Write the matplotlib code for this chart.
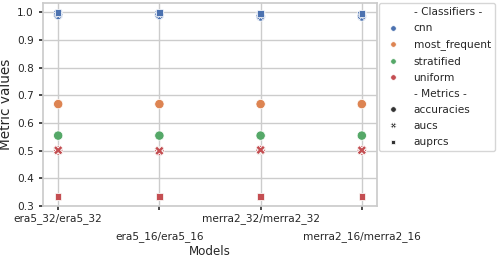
import pandas as pd
import numpy as np
import matplotlib
matplotlib.use('Agg')
import matplotlib.pyplot as plt
import seaborn as sns

models = ['era5_32/era5_32', 'era5_16/era5_16', 'merra2_32/merra2_32', 'merra2_16/merra2_16']
classifiers = ['cnn', 'most_frequent', 'stratified', 'uniform']
metrics = ['accuracies', 'aucs', 'auprcs']

# values per classifier, per metric, per model
accuracies = {
    'cnn': [0.990, 0.990, 0.985, 0.985],
    'most_frequent': [0.668, 0.668, 0.668, 0.668],
    'stratified': [0.554, 0.554, 0.554, 0.554],
    'uniform': [0.500, 0.498, 0.502, 0.500],
}
aucs = {
    'cnn': [0.995, 0.994, 0.990, 0.990],
    'most_frequent': [0.500, 0.500, 0.500, 0.500],
    'stratified': [0.500, 0.500, 0.500, 0.500],
    'uniform': [0.501, 0.499, 0.502, 0.501],
}
auprcs = {
    'cnn': [1.000, 1.000, 0.996, 0.996],
    'most_frequent': [0.333, 0.333, 0.333, 0.333],
    'stratified': [0.333, 0.333, 0.333, 0.333],
    'uniform': [0.333, 0.333, 0.333, 0.333],
}

rows = []
for metric, table in zip(metrics, [accuracies, aucs, auprcs]):
    for clf in classifiers:
        for m, v in zip(models, table[clf]):
            rows.append({'Models': m, 'Metric values': v, 'classifier': clf, 'metric': metric})
df = pd.DataFrame(rows)

sns.set_theme(style='whitegrid')
plt.rcParams['font.family'] = ['DejaVu Sans']

fig, ax = plt.subplots(figsize=(5, 2.59), dpi=100)
sns.scatterplot(data=df, x='Models', y='Metric values', hue='classifier', style='metric',
                s=45, ax=ax)
ax.grid(True)

# staggered tick labels
labels = [m if i % 2 == 0 else '\n' + m for i, m in enumerate(models)]
ax.set_xticks(range(len(models)))
ax.set_xticklabels(labels, fontsize=7.6)
for i, t in enumerate(ax.get_xticklabels()):
    if i % 2 == 1:
        t.set_linespacing(2.05)
ax.tick_params(axis='both', labelsize=7.6, length=3, bottom=True, left=True, color='#333333')
ax.tick_params(axis='x', pad=2)
ax.set_xlabel('Models', fontsize=8.6, labelpad=2)
ax.set_ylabel('Metric values', fontsize=9.8, labelpad=3)

handles, labs = ax.get_legend_handles_labels()
labs = ['- Classifiers -' if l == 'classifier' else '- Metrics -' if l == 'metric' else l for l in labs]
ax.legend(handles, labs, loc='upper left', bbox_to_anchor=(1.005, 1.0), fontsize=7.6,
          markerscale=0.6, handletextpad=0.9, borderaxespad=0, labelspacing=0.58)

plt.subplots_adjust(left=0.086, right=0.754, top=0.988, bottom=0.205)
plt.savefig('out.png', dpi=100)
